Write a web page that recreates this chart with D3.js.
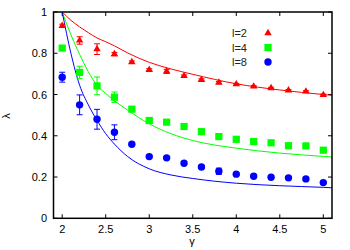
<!DOCTYPE html>
<html>
<head>
<meta charset="utf-8">
<script src="https://cdn.jsdelivr.net/npm/d3@7.9.0/dist/d3.min.js"></script>
<style>
  body { margin: 0; background: #fff; }
  svg text { font-family: "Liberation Sans", Arial, sans-serif; font-size: 11px; }
</style>
</head>
<body>
<svg id="chart" width="350" height="250"></svg>
<script>
// data points (gamma, lambda, error)
const gammas = [2.0, 2.2, 2.4, 2.6, 2.8, 3.0, 3.2, 3.4, 3.6, 3.8, 4.0, 4.2, 4.4, 4.6, 4.8, 5.0];
const l2Vals = [0.933, 0.862, 0.82, 0.796, 0.757, 0.72, 0.712, 0.69, 0.671, 0.658, 0.65, 0.639, 0.631, 0.62, 0.615, 0.598];
const l2Err  = [0.008, 0.018, 0.026, 0.008, 0.006, 0.005, 0.01, 0.005, 0.005, 0.005, 0.004, 0.004, 0.004, 0.004, 0.004, 0.004];
const l4Vals = [0.825, 0.707, 0.642, 0.587, 0.529, 0.474, 0.466, 0.445, 0.42, 0.396, 0.383, 0.372, 0.366, 0.352, 0.351, 0.33];
const l4Err  = [0.008, 0.03, 0.043, 0.025, 0.008, 0.006, 0.006, 0.005, 0.005, 0.005, 0.005, 0.005, 0.004, 0.004, 0.004, 0.004];
const l8Vals = [0.684, 0.55, 0.48, 0.417, 0.359, 0.299, 0.293, 0.267, 0.249, 0.228, 0.214, 0.204, 0.199, 0.196, 0.191, 0.173];
const l8Err  = [0.024, 0.048, 0.048, 0.036, 0.008, 0.006, 0.006, 0.006, 0.006, 0.015, 0.005, 0.005, 0.005, 0.005, 0.005, 0.005];

// fitted curves
const fitGammas = [2.0, 2.1, 2.2, 2.3, 2.4, 2.5, 2.6, 2.75, 3.0, 3.25, 3.5, 4.0, 4.5, 5.0, 5.1];
const l2Fit = [1.0, 0.96, 0.928, 0.9, 0.874, 0.856, 0.836, 0.802, 0.756, 0.724, 0.698, 0.652, 0.622, 0.6, 0.596];
const l4Fit = [1.0, 0.89, 0.795, 0.71, 0.645, 0.605, 0.57, 0.525, 0.458, 0.41, 0.377, 0.34, 0.316, 0.3, 0.297];
const l8Fit = [1.0, 0.8, 0.645, 0.55, 0.475, 0.41, 0.36, 0.3, 0.24, 0.21, 0.193, 0.17, 0.158, 0.15, 0.148];

const xTicks = [2, 2.5, 3, 3.5, 4, 4.5, 5];
const yTicks = [0, 0.2, 0.4, 0.6, 0.8, 1];

const series = [
  { label: "l=2", vals: l2Vals, err: l2Err, fit: l2Fit, color: "#ff0000", shape: "tri" },
  { label: "l=4", vals: l4Vals, err: l4Err, fit: l4Fit, color: "#00ff00", shape: "sq" },
  { label: "l=8", vals: l8Vals, err: l8Err, fit: l8Fit, color: "#0000ff", shape: "circ" }
];

const mLeft = 53.5, mRight = 332, mTop = 12, mBottom = 218.3;
const x = d3.scaleLinear().domain([1.9, 5.1]).range([mLeft, mRight]);
const y = d3.scaleLinear().domain([0, 1]).range([mBottom, mTop]);

const svg = d3.select("#chart");

svg.append("defs").append("clipPath").attr("id", "plotclip")
  .append("rect").attr("x", mLeft).attr("y", mTop).attr("width", mRight - mLeft).attr("height", mBottom - mTop);

// ticks (inward, mirrored)
const tickLen = 4;
const g = svg.append("g");
xTicks.forEach(t => {
  g.append("line").attr("x1", x(t)).attr("x2", x(t)).attr("y1", mBottom).attr("y2", mBottom - tickLen)
    .attr("stroke", "#000").attr("stroke-width", 1);
  g.append("line").attr("x1", x(t)).attr("x2", x(t)).attr("y1", mTop).attr("y2", mTop + tickLen)
    .attr("stroke", "#000").attr("stroke-width", 1);
  g.append("text").attr("x", x(t)).attr("y", 233).attr("text-anchor", "middle").text(t);
});
yTicks.forEach(t => {
  g.append("line").attr("x1", mLeft).attr("x2", mLeft + tickLen).attr("y1", y(t)).attr("y2", y(t))
    .attr("stroke", "#000").attr("stroke-width", 1);
  g.append("line").attr("x1", mRight).attr("x2", mRight - tickLen).attr("y1", y(t)).attr("y2", y(t))
    .attr("stroke", "#000").attr("stroke-width", 1);
  g.append("text").attr("x", 47).attr("y", y(t) + 4).attr("text-anchor", "end").text(t);
});

// fitted lines
const line = d3.line().x(d => x(d[0])).y(d => y(d[1])).curve(d3.curveMonotoneX);
const plot = svg.append("g").attr("clip-path", "url(#plotclip)");
series.forEach(s => {
  plot.append("path").datum(fitGammas.map((gm, i) => [gm, s.fit[i]]))
    .attr("d", line).attr("fill", "none").attr("stroke", s.color).attr("stroke-width", 1);
});

// markers
function drawMarker(sel, shape, cx, cy, color) {
  if (shape === "tri") {
    sel.append("path").attr("d", d3.symbol(d3.symbolTriangle, 24)()).attr("transform", `translate(${cx},${cy})`).attr("fill", color);
  } else if (shape === "sq") {
    sel.append("rect").attr("x", cx - 3.6).attr("y", cy - 3.6).attr("width", 7.2).attr("height", 7.2).attr("fill", color);
  } else {
    sel.append("circle").attr("cx", cx).attr("cy", cy).attr("r", 3.7).attr("fill", color);
  }
}

series.forEach(s => {
  gammas.forEach((gm, i) => {
    const cx = x(gm), cy = y(s.vals[i]);
    const y1 = y(s.vals[i] + s.err[i]), y2 = y(s.vals[i] - s.err[i]);
    plot.append("line").attr("x1", cx).attr("x2", cx).attr("y1", y1).attr("y2", y2).attr("stroke", s.color).attr("stroke-width", 1);
    plot.append("line").attr("x1", cx - 3).attr("x2", cx + 3).attr("y1", y1).attr("y2", y1).attr("stroke", s.color).attr("stroke-width", 1);
    plot.append("line").attr("x1", cx - 3).attr("x2", cx + 3).attr("y1", y2).attr("y2", y2).attr("stroke", s.color).attr("stroke-width", 1);
    drawMarker(plot, s.shape, cx, cy, s.color);
  });
});

// legend
series.forEach((s, i) => {
  const ly = 33 + i * 14.5;
  svg.append("text").attr("x", 247).attr("y", ly + 4).attr("text-anchor", "end").attr("fill", "#222").text(s.label);
  drawMarker(svg, s.shape, 268, ly, s.color);
});

// frame
svg.append("rect").attr("x", mLeft).attr("y", mTop).attr("width", mRight - mLeft).attr("height", mBottom - mTop)
  .attr("fill", "none").attr("stroke", "#000").attr("stroke-width", 1.5);

// axis labels
svg.append("text").attr("x", 192).attr("y", 245).attr("text-anchor", "middle").text("γ");
svg.append("text").attr("transform", "translate(10,116) rotate(-90)").attr("text-anchor", "middle").text("λ");
</script>
</body>
</html>
